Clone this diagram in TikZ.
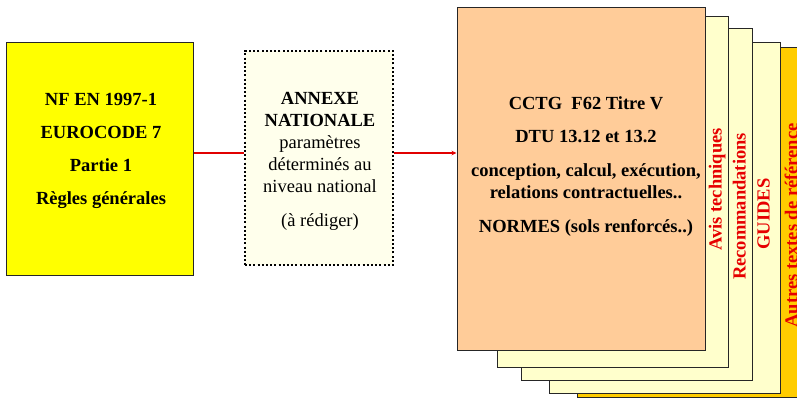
\documentclass[tikz,border=0pt]{standalone}
\usepackage{fontspec}
\setmainfont{Liberation Serif}
\usetikzlibrary{arrows.meta}
\definecolor{boxyellow}{HTML}{FFFF00}
\definecolor{annexfill}{HTML}{FFFFEC}
\definecolor{peach}{HTML}{FFCC99}
\definecolor{paleyellow}{HTML}{FFFFCC}
\definecolor{amber}{HTML}{FFCC00}
\definecolor{textred}{RGB}{230,0,0}
\definecolor{linered}{RGB}{225,0,0}
\tikzset{
  sheet/.style={draw=black!85, line width=1bp},
  btxt/.style={anchor=base, inner sep=0pt, font=\fontsize{18.5bp}{22bp}\selectfont\bfseries},
  rtxt/.style={anchor=base, inner sep=0pt, font=\fontsize{18.5bp}{22bp}\selectfont},
  sidetxt/.style={anchor=base, inner sep=0pt, rotate=90, text=textred,
    font=\fontsize{18.5bp}{22bp}\selectfont\bfseries},
  link/.style={draw=linered, line width=2bp}
}
\begin{document}
\begin{tikzpicture}[x=1bp, y=-1bp]
\useasboundingbox (0,0) rectangle (797,399);

% stack of reference documents, back to front
\draw[sheet, fill=amber] (577,47) rectangle (812,397);
\draw[sheet, fill=paleyellow] (549,42) rectangle (780,393);
\draw[sheet, fill=paleyellow] (521,28) rectangle (752,380);
\draw[sheet, fill=paleyellow] (497,16) rectangle (728,367);
\node[sheet, fill=peach, minimum width=248bp, minimum height=343bp, inner sep=0pt]
  (cctg) at (581,178.5) {};

% Eurocode box
\node[sheet, fill=boxyellow, minimum width=186bp, minimum height=233bp, inner sep=0pt]
  (ec7) at (100,158.5) {};
% national annex box
\node[draw=black, line width=2.2bp, dash pattern=on 2bp off 2.2bp, fill=annexfill,
  minimum width=148bp, minimum height=214bp, inner sep=0pt]
  (annex) at (319,158) {};

% connectors
\draw[link] (ec7.east |- 0,153) -- (annex.west |- 0,153);
\draw[link, -{Stealth[length=5bp,width=4.5bp]}] (annex.east |- 0,153) -- (cctg.west |- 0,153);

% Eurocode text
\node[btxt] (ec1) at (101,105) {NF EN 1997-1};
\node[btxt] (ec2) at (101,138.3) {EUROCODE 7};
\node[btxt] (ec3) at (101,171.5) {Partie 1};
\node[btxt] (ec4) at (101,204.5) {Règles générales};

% annex text
\node[btxt] (an1) at (320,104) {ANNEXE};
\node[btxt] (an2) at (320,126) {NATIONALE};
\node[rtxt] (an3) at (320,148.3) {paramètres};
\node[rtxt] (an4) at (320,170.5) {déterminés au};
\node[rtxt] (an5) at (320,192.7) {niveau national};
\node[rtxt] (an6) at (320,226) {(à rédiger)};

% main document text
\node[btxt] (cc1) at (586,109.3) {CCTG~~F62 Titre V};
\node[btxt] (cc2) at (586,142.7) {DTU 13.12 et 13.2};
\node[btxt] (cc3) at (586,176) {conception, calcul, exécution,};
\node[btxt] (cc4) at (586,198) {relations contractuelles..};
\node[btxt] (cc5) at (586,232) {NORMES (sols renforcés..)};

% labels on the sheets behind
\node[sidetxt] (s1) at (721.5,189.5) {Avis techniques};
\node[sidetxt] (s2) at (745.5,206.5) {Recommandations};
\node[sidetxt] (s3) at (769.5,214) {GUIDES};
\node[sidetxt] (s4) at (797.5,225.5) {Autres textes de référence};
\end{tikzpicture}
\end{document}
